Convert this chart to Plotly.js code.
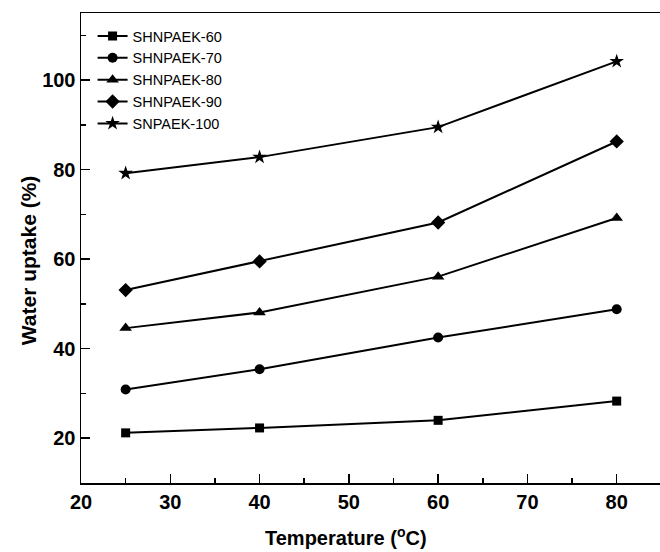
<!DOCTYPE html>
<html>
<head>
<meta charset="utf-8">
<script src="https://cdn.plot.ly/plotly-3.0.1.min.js"></script>
<style>html,body{margin:0;padding:0;background:#fff}#chart{width:660px;height:552px}</style>
</head>
<body>
<div id="chart"></div>
<script>
const temperature = [25, 40, 60, 80];
const shnpaek60 = [21.2, 22.3, 24.0, 28.3];
const shnpaek70 = [30.9, 35.4, 42.5, 48.8];
const shnpaek80 = [44.6, 48.1, 56.1, 69.2];
const shnpaek90 = [53.1, 59.5, 68.2, 86.3];
const snpaek100 = [79.2, 82.8, 89.5, 104.2];
const seriesNames = ['SHNPAEK-60', 'SHNPAEK-70', 'SHNPAEK-80', 'SHNPAEK-90', 'SNPAEK-100'];
const seriesValues = [shnpaek60, shnpaek70, shnpaek80, shnpaek90, snpaek100];
const symbols = ['square', 'circle', 'triangle-up', 'diamond', 'star'];
const sizes = [9, 10, 11, 11, 11];
const xTitle = 'Temperature (<sup>o</sup>C)';
const yTitle = 'Water uptake (%)';

const traces = seriesNames.map((name, i) => ({
  x: temperature,
  y: seriesValues[i],
  name: name,
  type: 'scatter',
  mode: 'lines+markers',
  line: {color: '#000', width: 2},
  marker: {symbol: symbols[i], size: sizes[i], color: '#000'}
}));

const font = 'Liberation Sans, Arial, sans-serif';
const layout = {
  width: 660, height: 552,
  margin: {l: 81, r: 0, t: 13, b: 69},
  paper_bgcolor: '#fff', plot_bgcolor: '#fff',
  showlegend: true,
  legend: {x: 0.02, y: 0.985, xanchor: 'left', yanchor: 'top', bgcolor: 'rgba(0,0,0,0)',
    font: {family: font, size: 14.5, color: '#000'}, tracegroupgap: 0},
  xaxis: {
    range: [20, 84.85], dtick: 10, tick0: 20,
    ticks: 'inside', ticklen: 9, tickwidth: 1.5, tickcolor: '#000',
    minor: {dtick: 5, ticks: 'inside', ticklen: 5, tickwidth: 1.5, tickcolor: '#000'},
    showline: true, linecolor: '#000', linewidth: 1.5, mirror: true,
    showgrid: false, zeroline: false,
    tickfont: {family: font, size: 20, color: '#000', weight: 'bold'}
  },
  yaxis: {
    range: [10, 115], dtick: 20, tick0: 0,
    ticks: 'inside', ticklen: 9, tickwidth: 1.5, tickcolor: '#000',
    minor: {dtick: 10, ticks: 'inside', ticklen: 5, tickwidth: 1.5, tickcolor: '#000'},
    showline: true, linecolor: '#000', linewidth: 1.5, mirror: true,
    showgrid: false, zeroline: false,
    tickfont: {family: font, size: 20, color: '#000', weight: 'bold'}
  },
  annotations: [
    {text: xTitle, xref: 'paper', yref: 'paper', x: 0.458, y: -0.114, xanchor: 'center', yanchor: 'middle',
      showarrow: false, font: {family: font, size: 20, color: '#000', weight: 'bold'}},
    {text: yTitle, xref: 'paper', yref: 'paper', x: -0.0915, y: 0.474, xanchor: 'center', yanchor: 'middle',
      textangle: -90, showarrow: false, font: {family: font, size: 21, color: '#000', weight: 'bold'}}
  ]
};

Plotly.newPlot('chart', traces, layout, {displayModeBar: false, staticPlot: true});
</script>
</body>
</html>
